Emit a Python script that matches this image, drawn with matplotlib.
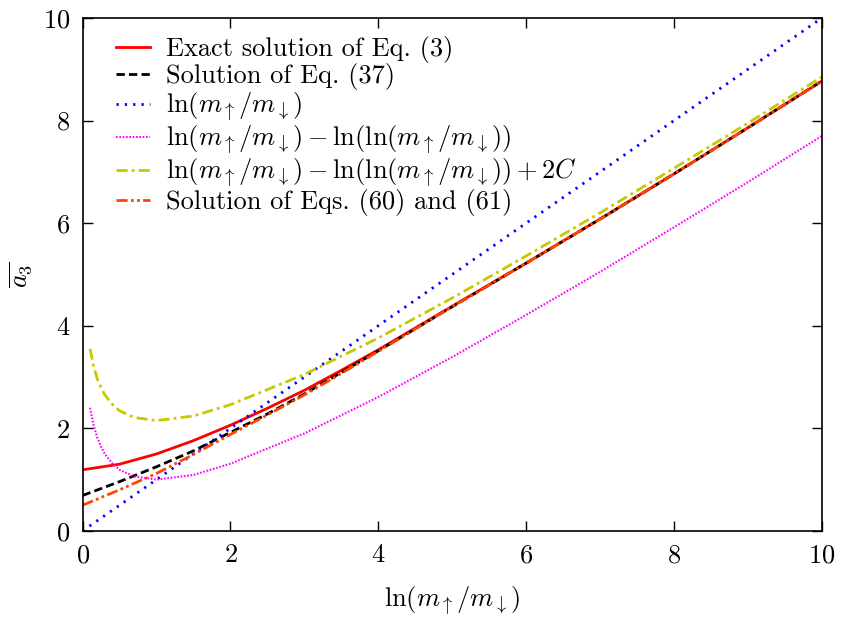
import numpy as np
import matplotlib
matplotlib.use("Agg")
import matplotlib.pyplot as plt

plt.rcParams['font.family'] = 'serif'
plt.rcParams['font.serif'] = ['cmr10']
plt.rcParams['mathtext.fontset'] = 'cm'
plt.rcParams['axes.formatter.use_mathtext'] = True

# values
x_exact = [0, 0.5, 1, 1.5, 2, 2.5, 3, 3.5, 4, 5, 6, 7, 8, 9, 10]
y_exact = [1.19, 1.30, 1.50, 1.76, 2.06, 2.39, 2.74, 3.13, 3.53, 4.38, 5.22, 6.08, 6.96, 7.86, 8.77]

x_eq37 = [0, 0.5, 1, 1.5, 2, 2.5, 3, 3.5, 4, 5, 6, 7, 8, 9, 10]
y_eq37 = [0.69, 0.96, 1.25, 1.56, 1.92, 2.28, 2.67, 3.09, 3.51, 4.37, 5.22, 6.08, 6.96, 7.86, 8.77]

x_ln = [0, 10]
y_ln = [0, 10]

x_lnln = [0.1, 0.15, 0.2, 0.25, 0.3, 0.4, 0.5, 0.7, 1, 1.5, 2, 3, 4, 5, 6, 7, 8, 9, 10]
y_lnln = [2.40, 2.05, 1.81, 1.64, 1.50, 1.32, 1.19, 1.06, 1.00, 1.09, 1.31, 1.90, 2.61, 3.39, 4.21, 5.05, 5.92, 6.80, 7.70]

x_lnln2c = [0.1, 0.15, 0.2, 0.25, 0.3, 0.4, 0.5, 0.7, 1, 1.5, 2, 3, 4, 5, 6, 7, 8, 9, 10]
y_lnln2c = [3.55, 3.20, 2.96, 2.79, 2.65, 2.47, 2.34, 2.21, 2.15, 2.24, 2.46, 3.05, 3.76, 4.54, 5.36, 6.20, 7.07, 7.95, 8.85]

x_eq60 = [0, 0.5, 1, 1.5, 2, 2.5, 3, 3.5, 4, 5, 6, 7, 8, 9, 10]
y_eq60 = [0.50, 0.80, 1.12, 1.49, 1.88, 2.26, 2.65, 3.07, 3.50, 4.37, 5.22, 6.08, 6.96, 7.86, 8.77]

lnm = r'\ln(m_\uparrow/m_\downarrow)'

fig, ax = plt.subplots(figsize=(8.43, 6.18), dpi=100)
fig.subplots_adjust(left=0.098, right=0.975, top=0.971, bottom=0.141)

ax.plot(x_exact, y_exact, color='#ff0000', lw=2, label='Exact solution of Eq. (3)')
ax.plot(x_eq37, y_eq37, color='black', lw=2, dashes=(3, 1.5), label='Solution of Eq. (37)')
ax.plot(x_ln, y_ln, color='#0000ff', lw=2, dashes=(0.8, 2.2), label='$' + lnm + '$')
ax.plot(x_lnln, y_lnln, color='#ff00ff', lw=1.5, dashes=(0.8, 0.8),
        label='$' + lnm + r' - \ln(' + lnm + ')$')
ax.plot(x_lnln2c, y_lnln2c, color='#c8c800', lw=2, dashes=(4, 1.5, 1, 1.5),
        label='$' + lnm + r' - \ln(' + lnm + ') + 2C$')
ax.plot(x_eq60, y_eq60, color='#ff4500', lw=2, dashes=(4, 1.2, 1, 1.2, 1, 1.2),
        label='Solution of Eqs. (60) and (61)')

ax.set_xlim(0, 10)
ax.set_ylim(0, 10)
ax.set_xticks([0, 2, 4, 6, 8, 10])
ax.set_yticks([0, 2, 4, 6, 8, 10])
ax.tick_params(direction='in', top=True, right=True, length=7, width=1, labelsize=19, pad=9)
for s in ax.spines.values():
    s.set_linewidth(1.2)

ax.set_xlabel('$' + lnm + '$', fontsize=19, labelpad=12)
ax.set_ylabel(r'$\overline{a_3}$', fontsize=19, labelpad=6)

ax.legend(loc='upper left', frameon=False, fontsize=19, handlelength=1.3,
          handletextpad=0.6, labelspacing=0.0, borderaxespad=0.3,
          bbox_to_anchor=(0.02, 1.0))

fig.savefig('out.png', dpi=100)
